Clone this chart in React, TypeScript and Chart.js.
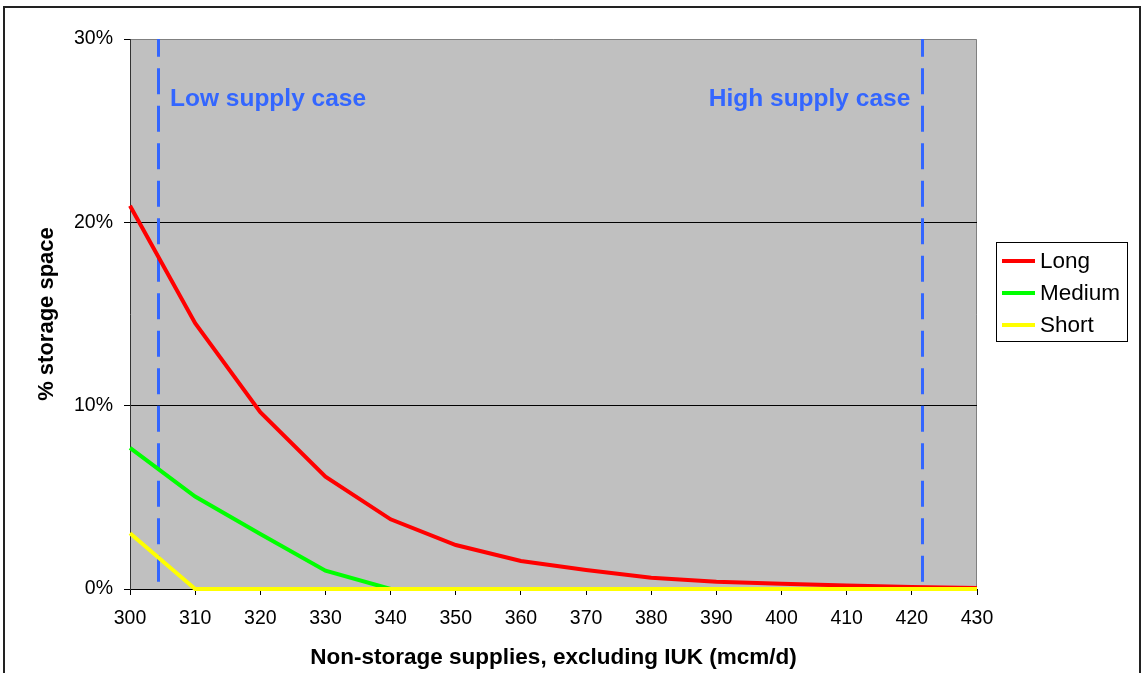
import React, { useEffect, useRef } from "react";
import { Chart, registerables } from "chart.js";

Chart.register(...registerables);

// ---- data ----
const supplies = [300, 310, 320, 330, 340, 350, 360, 370, 380, 390, 400, 410, 420, 430];
const longSeries = [0.209, 0.145, 0.0965, 0.0613, 0.038, 0.024, 0.0153, 0.0104, 0.0062, 0.004, 0.0028, 0.0019, 0.0011, 0.0005];
const mediumSeries = [0.077, 0.0504, 0.03, 0.01, 0, 0, 0, 0, 0, 0, 0, 0, 0, 0];
const shortSeries = [0.0304, 0, 0, 0, 0, 0, 0, 0, 0, 0, 0, 0, 0, 0];
const seriesNames = ["Long", "Medium", "Short"];
const seriesColors = ["#FF0000", "#00FF00", "#FFFF00"];
const yTickValues = [0, 0.1, 0.2, 0.3];
const lowSupplyCase = 304.3;
const highSupplyCase = 421.6;
const caseLineRange = [0.004, 0.3];
const caseLabels = ["Low supply case", "High supply case"];
const xTitle = "Non-storage supplies, excluding IUK (mcm/d)";
const yTitle = "% storage space";

const FONT = "Arial, 'Liberation Sans', sans-serif";
const BLUE = "#3366FF";

export default function App() {
  const ref = useRef<HTMLCanvasElement | null>(null);

  useEffect(() => {
    document.body.style.margin = "0";
    const canvas = ref.current;
    if (!canvas) return;

    const decor = {
      id: "decor",
      beforeDraw(chart: any) {
        const { ctx, chartArea: a, width, height } = chart;
        ctx.save();
        ctx.fillStyle = "#FFFFFF";
        ctx.fillRect(0, 0, width, height);
        // outer frame
        ctx.strokeStyle = "#222";
        ctx.lineWidth = 2;
        ctx.strokeRect(4, 7, width - 7, height + 20);
        // plot background
        ctx.fillStyle = "#C0C0C0";
        ctx.fillRect(a.left, a.top, a.right - a.left, a.bottom - a.top);
        ctx.strokeStyle = "#808080";
        ctx.lineWidth = 1;
        ctx.beginPath();
        ctx.moveTo(a.left, a.top + 0.5);
        ctx.lineTo(a.right - 0.5, a.top + 0.5);
        ctx.lineTo(a.right - 0.5, a.bottom);
        ctx.stroke();
        ctx.restore();
      },
      beforeDatasetsDraw(chart: any) {
        const { ctx, chartArea: a, scales } = chart;
        const x = scales.x, y = scales.y;
        ctx.save();
        ctx.beginPath();
        ctx.rect(a.left, a.top, a.right - a.left, a.bottom - a.top);
        ctx.clip();
        ctx.strokeStyle = BLUE;
        ctx.lineWidth = 3;
        ctx.setLineDash([26, 11.5]);
        [lowSupplyCase, highSupplyCase].forEach((v) => {
          const px = Math.round(x.getPixelForValue(v)) + 0.5;
          ctx.beginPath();
          ctx.moveTo(px, y.getPixelForValue(caseLineRange[0]));
          ctx.lineTo(px, y.getPixelForValue(caseLineRange[1]) - 20);
          ctx.stroke();
        });
        ctx.setLineDash([]);
        ctx.fillStyle = BLUE;
        ctx.font = `bold 24.5px ${FONT}`;
        ctx.textBaseline = "middle";
        const ty = a.top + 60;
        ctx.textAlign = "left";
        ctx.fillText(caseLabels[0], x.getPixelForValue(lowSupplyCase) + 12, ty);
        ctx.textAlign = "right";
        ctx.fillText(caseLabels[1], x.getPixelForValue(highSupplyCase) - 12, ty);
        ctx.restore();
      },
      afterDraw(chart: any) {
        const { ctx, chartArea: a } = chart;
        ctx.save();
        const lx = a.right + 19;
        const ly = a.top + 203;
        const lw = 131;
        const lh = 99;
        ctx.fillStyle = "#FFFFFF";
        ctx.fillRect(lx, ly, lw, lh);
        ctx.strokeStyle = "#000";
        ctx.lineWidth = 1;
        ctx.strokeRect(lx + 0.5, ly + 0.5, lw, lh);
        ctx.font = `22.5px ${FONT}`;
        ctx.textBaseline = "middle";
        ctx.textAlign = "left";
        chart.data.datasets.forEach((ds: any, i: number) => {
          const yy = ly + 19 + i * 32;
          ctx.strokeStyle = ds.borderColor;
          ctx.lineWidth = 4;
          ctx.beginPath();
          ctx.moveTo(lx + 6, yy);
          ctx.lineTo(lx + 39, yy);
          ctx.stroke();
          ctx.fillStyle = "#000";
          ctx.fillText(ds.label, lx + 44, yy + 1);
        });
        ctx.restore();
      },
    };

    const chart = new Chart(canvas, {
      type: "line",
      data: {
        datasets: [longSeries, mediumSeries, shortSeries].map((s, i) => ({
          label: seriesNames[i],
          data: supplies.map((xv, j) => ({ x: xv, y: s[j] })),
          borderColor: seriesColors[i],
          backgroundColor: seriesColors[i],
          borderWidth: 4,
          pointRadius: 0,
          tension: 0,
          clip: 4,
          order: 2 - i,
        })),
      },
      options: {
        animation: false,
        responsive: false,
        maintainAspectRatio: false,
        layout: { padding: { left: 0, right: 166, top: 39, bottom: 0 } },
        plugins: { legend: { display: false }, tooltip: { enabled: false }, title: { display: false } },
        scales: {
          x: {
            type: "linear",
            min: 300,
            max: 430,
            afterFit: (s: any) => { s.height = 84; },
            afterBuildTicks: (s: any) => { s.ticks = supplies.map((v) => ({ value: v })); },
            ticks: { color: "#000", font: { family: FONT, size: 19.5 }, padding: 12, maxRotation: 0, autoSkip: false },
            grid: { drawOnChartArea: false, tickLength: 6, tickColor: "#000", color: "#000" },
            border: { display: true, color: "#000", width: 1 },
            title: { display: true, text: xTitle, color: "#000", font: { family: FONT, size: 22.5, weight: "bold" }, padding: { top: 0, bottom: 2 } },
          },
          y: {
            type: "linear",
            min: 0,
            max: 0.3,
            afterFit: (s: any) => { s.width = 130; },
            afterBuildTicks: (s: any) => { s.ticks = yTickValues.map((v) => ({ value: v })); },
            ticks: {
              color: "#000",
              font: { family: FONT, size: 19.5 },
              padding: 11,
              callback: (v: any) => Math.round(Number(v) * 100) + "%",
            },
            grid: {
              tickLength: 6,
              tickColor: "#000",
              color: (c: any) => (c.tick && (c.tick.value === 0.1 || c.tick.value === 0.2) ? "#000" : "rgba(0,0,0,0)"),
            },
            border: { display: true, color: "#333", width: 1 },
            title: { display: true, text: yTitle, color: "#000", font: { family: FONT, size: 22, weight: "bold" }, padding: { top: 34, bottom: 0 } },
          },
        },
      },
      plugins: [decor],
    });
    return () => chart.destroy();
  }, []);

  return (
    <div style={{ width: 1143, height: 673 }}>
      <canvas ref={ref} width={1143} height={673} style={{ display: "block", width: 1143, height: 673 }} />
    </div>
  );
}
